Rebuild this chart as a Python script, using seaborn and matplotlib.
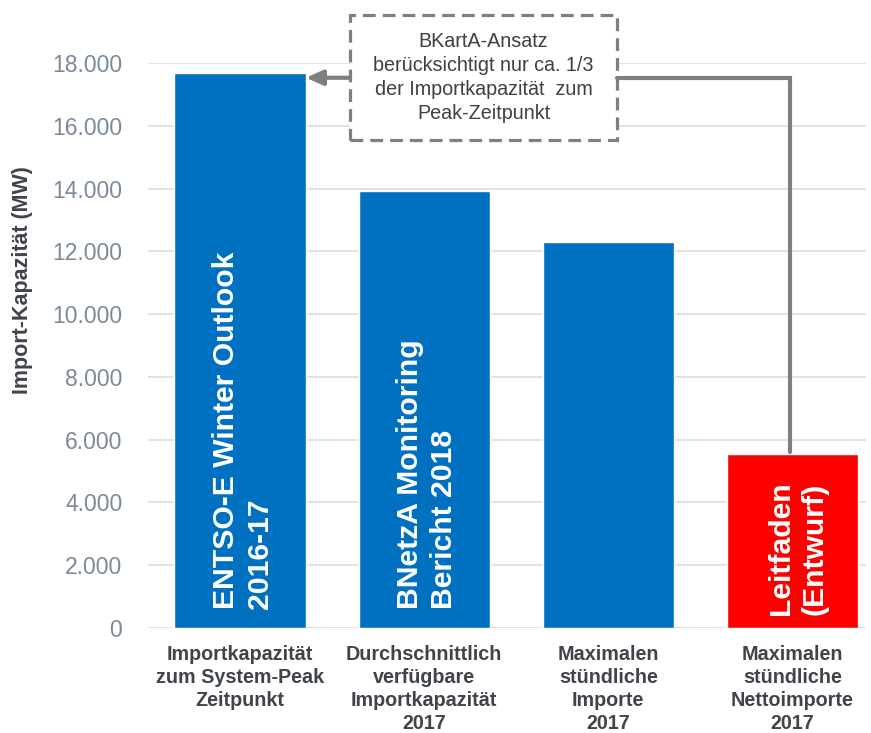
import matplotlib
matplotlib.use("Agg")
import matplotlib.pyplot as plt
from matplotlib.patches import Rectangle
from matplotlib.ticker import FuncFormatter, MultipleLocator
import seaborn as sns
import pandas as pd

# ---- data ----
categories = [
    "Importkapazität\nzum System-Peak\nZeitpunkt",
    "Durchschnittlich\nverfügbare\nImportkapazität\n2017",
    "Maximalen\nstündliche\nImporte\n2017",
    "Maximalen\nstündliche\nNettoimporte\n2017",
]
values = [17670, 13920, 12290, 5540]
bar_texts = ["ENTSO-E Winter Outlook\n2016-17", "BNetzA Monitoring\nBericht 2018", "", "Leitfaden\n(Entwurf)"]
bar_colors = ["#0070C0", "#0070C0", "#0070C0", "#FF0000"]
note_text = "BKartA-Ansatz\nberücksichtigt nur ca. 1/3\nder Importkapazität  zum\nPeak-Zeitpunkt"
y_label = "Import-Kapazität (MW)"

sns.set_theme(style="white")
plt.rcParams["font.family"] = ["Liberation Sans", "DejaVu Sans"]

df = pd.DataFrame({"cat": categories, "val": values})

fig = plt.figure(figsize=(8.71, 7.33), dpi=100)
ax = fig.add_axes([148 / 871, 1 - 628 / 733, (866 - 148) / 871, (628 - 63) / 733])

sns.barplot(data=df, x="cat", y="val", hue="cat", palette=bar_colors, legend=False,
            saturation=1, width=0.713, ax=ax, zorder=3)

ax.set_xlim(-0.5, 3.4)
ax.set_ylim(0, 18000)
ax.yaxis.set_major_locator(MultipleLocator(2000))
ax.yaxis.set_major_formatter(FuncFormatter(lambda v, p: f"{int(v):,}".replace(",", ".")))
ax.grid(axis="y", color="#dce1e6", lw=1.3, zorder=0)
ax.set_axisbelow(True)
for s in ax.spines.values():
    s.set_visible(False)

ax.tick_params(axis="y", length=0, pad=18.5, labelsize=16.5, labelcolor="#7b8a99")
ax.tick_params(axis="x", length=0, pad=12.5, labelsize=14.2, labelcolor="#3f444a")
for lab in ax.get_xticklabels():
    lab.set_fontweight("bold")
    lab.set_linespacing(1.26)

ax.set_xlabel("")
ax.set_ylabel(y_label, fontsize=15.5, fontweight="bold", color="#3f444a")
ax.yaxis.set_label_coords((23 - 148) / (866 - 148), (628 - 280) / (628 - 63))
ax.yaxis.label.set_va("center")

# text inside bars
bottoms = [600, 600, 600, 420]
for i, (t, b) in enumerate(zip(bar_texts, bottoms)):
    if t:
        ax.text(i + (0.015 if i < 3 else 0.03), b, t, rotation=90, ha="center", va="bottom",
                multialignment="left", color="white", fontsize=21.7, fontweight="bold",
                linespacing=1.25, zorder=5)

# annotation box
bx0, bx1 = 0.597, 2.048
by0, by1 = 15548, 19523
ax.add_patch(Rectangle((bx0, by0), bx1 - bx0, by1 - by0, facecolor="white",
                       edgecolor="#7f7f7f", lw=2.3, linestyle=(0, (4, 2.2)),
                       clip_on=False, zorder=6))
ax.text((bx0 + bx1) / 2, (by0 + by1) / 2, note_text, ha="center", va="center",
        fontsize=14.2, color="#404040", linespacing=1.32, zorder=7, clip_on=False)

yline = 17530
ax.annotate("", xy=(0.358, yline), xytext=(bx0, yline),
            arrowprops=dict(arrowstyle="-|>,head_length=1.0,head_width=0.45",
                            mutation_scale=10, color="#7f7f7f", lw=3,
                            shrinkA=0, shrinkB=0),
            annotation_clip=False, zorder=6)
ax.plot([bx1, 2.988, 2.988], [yline, yline, values[3] + 60], color="#7f7f7f",
        lw=3, solid_joinstyle="miter", clip_on=False, zorder=6)

fig.savefig("out.png", dpi=100)
